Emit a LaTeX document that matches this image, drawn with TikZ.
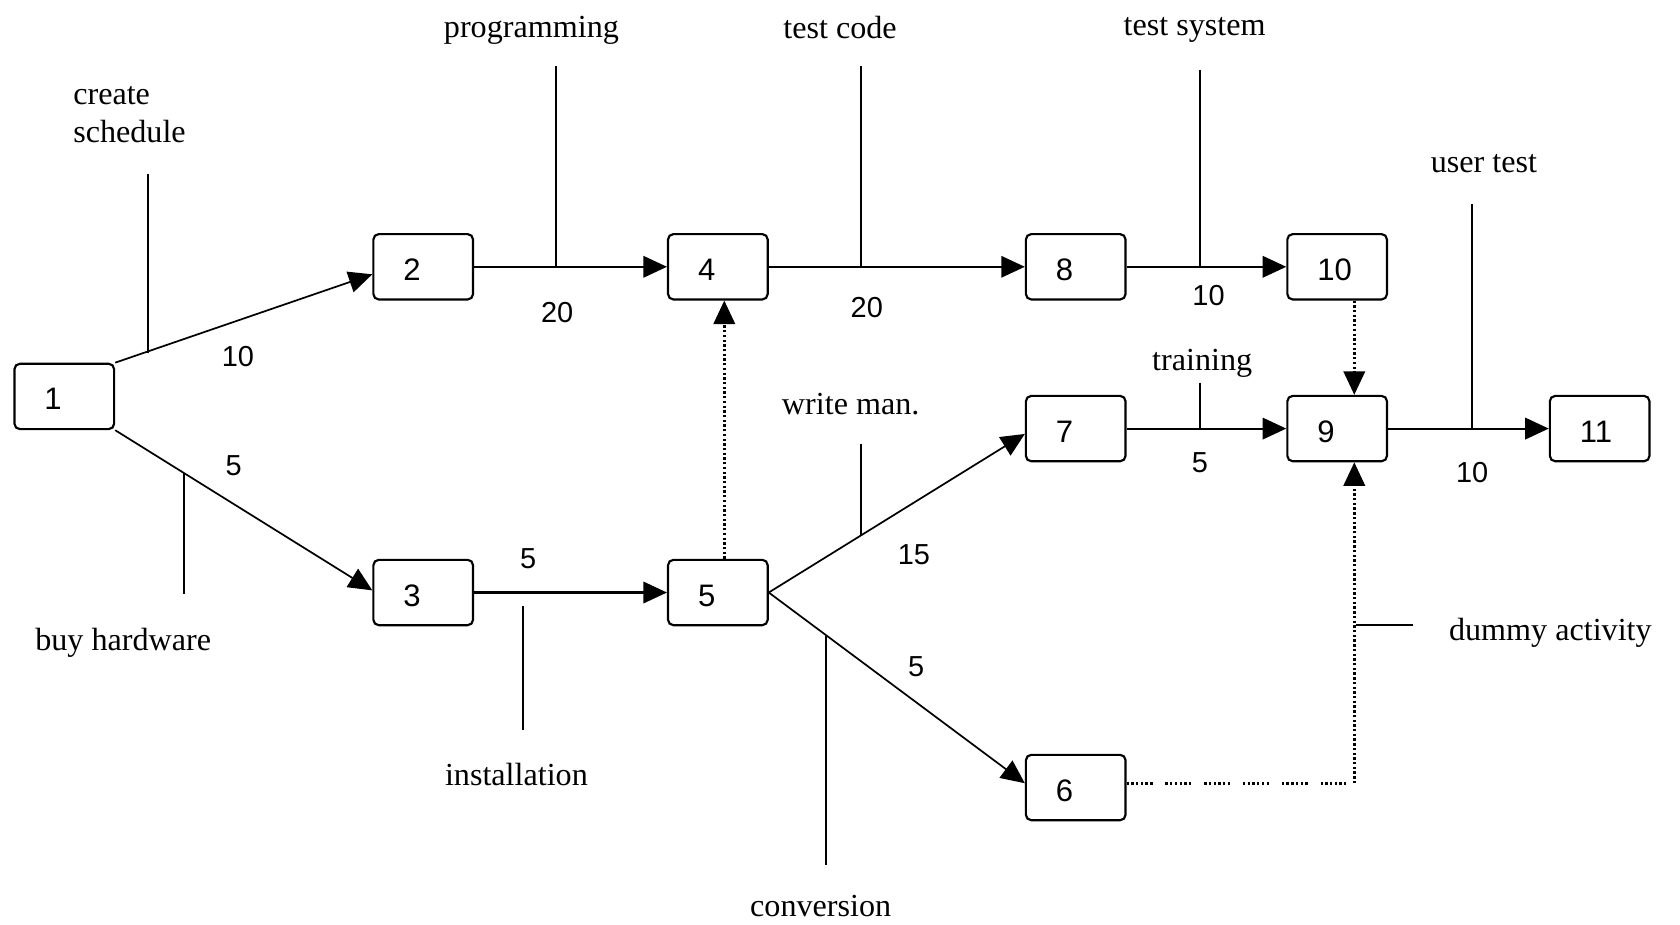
\documentclass[tikz,border=0pt]{standalone}
\usepackage{fontspec}
\setmainfont{Liberation Serif}
\newfontfamily\numfont{Liberation Sans}
\usetikzlibrary{arrows.meta,calc}
\begin{document}
\begin{tikzpicture}[x=0.5pt,y=-0.5pt,
  evt/.style={draw,line width=1pt,rounded corners=2.5pt,minimum height=30.5pt,
    text width=18.5pt,inner xsep=14pt,align=left,text height=12.6pt,text depth=0pt,
    font=\numfont\fontsize{14.5}{16}\selectfont},
  act/.style={font=\fontsize{15}{17.5}\selectfont,inner sep=0pt},
  num/.style={font=\numfont\fontsize{13.5}{15}\selectfont,inner sep=0pt},
  harr/.style={line width=1pt,-{Triangle[length=11pt,width=10pt]}},
  darr/.style={line width=0.8pt,-{Triangle[length=11pt,width=10pt]}},
  actline/.style={line width=0.9pt},
  dotln/.style={line width=1.2pt,dash pattern=on 1.1pt off 1.1pt},
  grpdot/.style={line width=1.2pt,dash pattern=on 1.1pt off 1.1pt on 1.1pt off 1.1pt on 1.1pt off 1.1pt on 1.1pt off 1.1pt on 1.1pt off 1.1pt on 1.1pt off 6pt},
]
\useasboundingbox (0,0) rectangle (1568,863);
\fill[white] (0,0) rectangle (1568,863);

% event nodes
\node[evt] (n1) at (60,370) {1};
\node[evt] (n2) at (395,249) {2};
\node[evt] (n4) at (670,249) {4};
\node[evt] (n8) at (1004,249) {8};
\node[evt] (n10) at (1248,249) {10};
\node[evt] (n3) at (395,553) {3};
\node[evt] (n5) at (670,553) {5};
\node[evt] (n7) at (1004,400) {7};
\node[evt] (n9) at (1248,400) {9};
\node[evt] (n11) at (1493,400) {11};
\node[evt] (n6) at (1004,735) {6};

% activity arrows
\draw[darr] (n1.north east) -- ([yshift=-3.5pt]n2.west);
\draw[darr] (n1.south east) -- ([yshift=1pt]n3.west);
\draw[harr] (n2) -- (n4);
\draw[harr] (n4) -- (n8);
\draw[harr] (n8) -- (n10);
\draw[harr] (n3) -- (n5);
\draw[darr] (n5.east) -- ([yshift=-2.5pt]n7.west);
\draw[darr] (n5.east) -- ([yshift=2pt]n6.west);
\draw[harr] (n7) -- (n9);
\draw[harr] (n9) -- (n11);

% dummy activities
\draw[dotln,-{Triangle[length=11pt,width=10pt]}] ([xshift=3pt]n5.north) -- ([xshift=3pt]n4.south);
\draw[dotln,-{Triangle[length=11pt,width=10pt]}] ([xshift=8pt]n10.south) -- ([xshift=8pt]n9.north);
\coordinate (c69) at (1264,731);
\draw[grpdot] ([yshift=2pt]n6.east) -- (c69);
\draw[dotln,-{Triangle[length=11pt,width=10pt]}] (c69) -- ([xshift=8pt]n9.south);

% activity labels and their leader lines
\node[act,align=left,anchor=west] (tcs) at (68,107) {create\\schedule};
\coordinate (lcs1) at (138,162); \coordinate (lcs2) at (138,329);
\draw[actline] (lcs1) -- (lcs2);

\node[act] (tprog) at (496,28) {programming};
\coordinate (lp1) at (519,62); \coordinate (lp2) at (519,249);
\draw[actline] (lp1) -- (lp2);

\node[act] (ttc) at (784,26) {test code};
\coordinate (ltc1) at (804,62); \coordinate (ltc2) at (804,249);
\draw[actline] (ltc1) -- (ltc2);

\node[act] (tts) at (1115,28) {test system};
\coordinate (lts1) at (1120,65); \coordinate (lts2) at (1120,249);
\draw[actline] (lts1) -- (lts2);

\node[act] (tut) at (1385,153) {user test};
\coordinate (lut1) at (1374,190); \coordinate (lut2) at (1374,400);
\draw[actline] (lut1) -- (lut2);

\node[act] (ttr) at (1122,339) {training};
\coordinate (ltr1) at (1120,357); \coordinate (ltr2) at (1120,400);
\draw[actline] (ltr1) -- (ltr2);

\node[act] (twm) at (794,377) {write man.};
\coordinate (lwm1) at (804,414); \coordinate (lwm2) at (804,499);
\draw[actline] (lwm1) -- (lwm2);

\node[act] (tbh) at (115,600) {buy hardware};
\coordinate (lbh1) at (172,441); \coordinate (lbh2) at (172,554);
\draw[actline] (lbh1) -- (lbh2);

\node[act] (tin) at (482,723) {installation};
\coordinate (lin1) at (488,566); \coordinate (lin2) at (488,681);
\draw[actline] (lin1) -- (lin2);

\node[act] (tcv) at (766,846) {conversion};
\coordinate (lcv1) at (771,594); \coordinate (lcv2) at (771,807);
\draw[actline] (lcv1) -- (lcv2);

\node[act,anchor=west] (tda) at (1352,591) {dummy activity};
\coordinate (lda1) at (1266,583); \coordinate (lda2) at (1319,583);
\draw[actline] (lda1) -- (lda2);

% durations
\node[num] (d12) at (222,333) {10};
\node[num] (d13) at (218,435) {5};
\node[num] (d24) at (520,292) {20};
\node[num] (d35) at (493,521) {5};
\node[num] (d48) at (809,287) {20};
\node[num] (d810) at (1128,276) {10};
\node[num] (d57) at (853,518) {15};
\node[num] (d56) at (855,622) {5};
\node[num] (d79) at (1120,432) {5};
\node[num] (d911) at (1374,441) {10};
\end{tikzpicture}
\end{document}
